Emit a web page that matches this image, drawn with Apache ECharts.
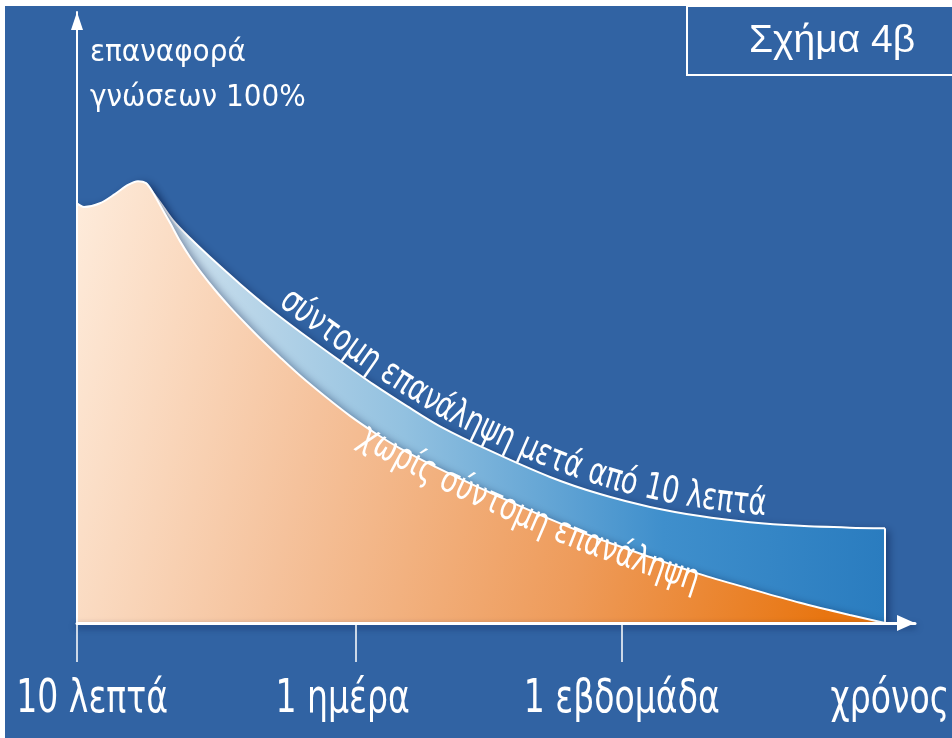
<!DOCTYPE html>
<html>
<head>
<meta charset="utf-8">
<script src="https://cdn.jsdelivr.net/npm/echarts@6/dist/echarts.min.js"></script>
<style>
  html, body { margin: 0; padding: 0; background: #fff; }
  #chart { width: 952px; height: 738px; }
</style>
</head>
<body>
<div id="chart"></div>
<script>
// Time runs 0–100 along the horizontal axis, recall (%) on the vertical axis.
const tickValues = [0, 33.3, 65.0];
const labelValues = [1.8, 31.7, 65.0, 97.0];
const labelTexts = ['10 λεπτά', '1 ημέρα', '1 εβδομάδα', 'χρόνος'];

// Forgetting curve without a short review
const timeNoReview = [0, 0.84, 2.74, 4.53, 6.09, 7.28, 8.23, 8.95, 9.90, 11.10, 12.29, 13.48, 14.68, 16.47, 18.26, 20.05, 21.84, 24.22, 26.61, 29.59, 32.58, 35.56, 38.54, 44.51, 50.48, 56.44, 62.41, 68.38, 74.34, 80.31, 86.28, 92.24, 96.42];
const recallNoReview = [68.7, 68.1, 68.7, 70.2, 71.7, 72.3, 72.0, 70.7, 68.4, 65.5, 62.5, 59.9, 57.6, 54.5, 51.7, 49.1, 46.6, 43.5, 40.5, 37.1, 33.9, 31.1, 28.6, 24.4, 20.6, 17.0, 13.7, 10.8, 8.0, 5.6, 3.3, 1.3, 0];

// Forgetting curve with a short review after 10 minutes
const timeReview = [8.23, 9.90, 11.46, 13.48, 15.87, 19.45, 23.03, 27.45, 31.38, 35.32, 39.38, 43.32, 49.28, 56.44, 62.41, 68.38, 74.34, 80.31, 86.28, 92.24, 96.42];
const recallReview = [72.0, 68.9, 65.9, 63.0, 59.9, 55.5, 51.4, 46.8, 42.9, 39.1, 35.5, 32.2, 28.2, 23.9, 21.1, 19.0, 17.5, 16.5, 15.9, 15.6, 15.5];

const axisTitle = 'επαναφορά\nγνώσεων 100%';
const figureTitle = 'Σχήμα 4β';
const upperCaption = 'σύντομη επανάληψη μετά από 10 λεπτά';
const lowerCaption = 'χωρίς σύντομη επανάληψη';

const BG = '#3163a3';
const COND = '"DejaVu Sans Condensed", "DejaVu Sans", sans-serif';
const SANS = '"Liberation Sans", Arial, sans-serif';

const zip = (xs, ys) => xs.map((x, i) => [x, ys[i]]);
const reviewData = zip(timeReview, recallReview);
const noReviewData = zip(timeNoReview, recallNoReview);
const lastReview = reviewData[reviewData.length - 1];

const chart = echarts.init(document.getElementById('chart'), null, { renderer: 'canvas' });

const baseGraphics = [
  { type: 'rect', z: -10, shape: { x: 5, y: 6, width: 947, height: 732 }, style: { fill: BG } },
  { type: 'rect', z: 5, shape: { x: 687, y: 6, width: 300, height: 69 },
    style: { fill: 'none', stroke: '#fff', lineWidth: 2 } },
  { type: 'text', z: 5, x: 832, y: 41,
    style: { text: figureTitle, fill: '#fff', fontSize: 39, fontFamily: SANS, align: 'center', verticalAlign: 'middle' } },
  { type: 'text', z: 5, x: 90, y: 30,
    style: { text: axisTitle, fill: '#fff', fontSize: 31, fontFamily: COND, lineHeight: 45, align: 'left', verticalAlign: 'top' } }
];

const shadowLine = { shadowColor: 'rgba(5,25,70,0.55)', shadowBlur: 6, shadowOffsetY: 3 };

chart.setOption({
  backgroundColor: '#fff',
  animation: false,
  grid: { left: 77, right: 37, top: 12, bottom: 115, containLabel: false, outerBoundsMode: 'none' },
  xAxis: {
    type: 'value', min: 0, max: 100, position: 'bottom', z: 6,
    splitLine: { show: false },
    axisLine: { show: true, symbol: ['none', 'triangle'], symbolSize: [16, 18], symbolOffset: [0, -9],
      lineStyle: Object.assign({ color: '#fff', width: 3 }, shadowLine) },
    axisTick: { show: true, customValues: tickValues, length: 39, lineStyle: { color: '#fff', width: 1.5 } },
    axisLabel: { show: false }
  },
  yAxis: {
    type: 'value', min: 0, max: 100, z: 6,
    splitLine: { show: false },
    axisLine: { show: true, symbol: ['none', 'triangle'], symbolSize: [12, 18], symbolOffset: [0, -9],
      lineStyle: { color: '#fff', width: 2 } },
    axisTick: { show: false },
    axisLabel: { show: false }
  },
  series: [
    {
      name: 'review', type: 'line', data: reviewData, smooth: 0.3, symbol: 'none', z: 2,
      lineStyle: { color: '#fff', width: 2 },
      areaStyle: {
        color: new echarts.graphic.LinearGradient(0, 0, 1, 0, [
          { offset: 0, color: '#d3e3ee' },
          { offset: 0.35, color: '#92c1e0' },
          { offset: 0.7, color: '#3f8fcc' },
          { offset: 1, color: '#2a7cbf' }
        ]),
        opacity: 1,
        shadowColor: 'rgba(5,25,70,0.5)', shadowBlur: 8, shadowOffsetX: 4, shadowOffsetY: 2
      }
    },
    {
      name: 'review-edge', type: 'line', data: [lastReview, [lastReview[0], 0]], symbol: 'none', z: 2,
      lineStyle: { color: '#fff', width: 2 }
    },
    {
      name: 'no-review', type: 'line', data: noReviewData, smooth: 0.3, symbol: 'none', z: 3,
      lineStyle: { color: '#fff', width: 2 },
      areaStyle: {
        color: new echarts.graphic.LinearGradient(0, 0, 1, 0.5, [
          { offset: 0, color: '#feecdc' },
          { offset: 0.35, color: '#f5c29c' },
          { offset: 0.7, color: '#ee9b5a' },
          { offset: 1, color: '#e87510' }
        ]),
        opacity: 1,
        shadowColor: 'rgba(5,25,70,0.45)', shadowBlur: 8, shadowOffsetX: 4, shadowOffsetY: 1
      }
    }
  ],
  graphic: baseGraphics
});

const px = (d) => chart.convertToPixel({ xAxisIndex: 0, yAxisIndex: 0 }, d);

// ---- time labels under the axis (condensed lettering) ----
const labelGraphics = labelValues.map((v, i) => ({
  type: 'text', z: 6,
  x: px([v, 0])[0], y: 677, scaleX: 0.8,
  style: { text: labelTexts[i], fill: '#fff', fontSize: 46, fontFamily: COND, align: 'center', verticalAlign: 'top' }
}));

// ---- captions written along the curves ----
function densify(pts, steps) {
  const out = [];
  const n = pts.length;
  for (let i = 0; i < n - 1; i++) {
    const p0 = pts[Math.max(i - 1, 0)], p1 = pts[i], p2 = pts[i + 1], p3 = pts[Math.min(i + 2, n - 1)];
    for (let k = 0; k < steps; k++) {
      const t = k / steps, t2 = t * t, t3 = t2 * t;
      const f = (a, b, c, d) => 0.5 * ((2 * b) + (-a + c) * t + (2 * a - 5 * b + 4 * c - d) * t2 + (-a + 3 * b - 3 * c + d) * t3);
      out.push([f(p0[0], p1[0], p2[0], p3[0]), f(p0[1], p1[1], p2[1], p3[1])]);
    }
  }
  out.push(pts[n - 1]);
  return out;
}

function makePath(pts) {
  const len = [0];
  for (let i = 1; i < pts.length; i++) {
    len.push(len[i - 1] + Math.hypot(pts[i][0] - pts[i - 1][0], pts[i][1] - pts[i - 1][1]));
  }
  function at(s) {
    let i = 1;
    while (i < pts.length - 1 && len[i] < s) i++;
    const seg = len[i] - len[i - 1] || 1;
    const t = Math.max(0, Math.min(1, (s - len[i - 1]) / seg));
    return [pts[i - 1][0] + (pts[i][0] - pts[i - 1][0]) * t, pts[i - 1][1] + (pts[i][1] - pts[i - 1][1]) * t];
  }
  function arcAtX(x) {
    for (let i = 0; i < pts.length; i++) if (pts[i][0] >= x) return len[i];
    return len[len.length - 1];
  }
  return { at, arcAtX };
}

const measureCtx = document.createElement('canvas').getContext('2d');

function captionElements(text, path, startX, fontSize, squeeze, offset, shadow) {
  measureCtx.font = fontSize + 'px ' + COND;
  let s = path.arcAtX(startX);
  const els = [];
  for (const ch of text) {
    const w = measureCtx.measureText(ch).width * squeeze;
    const a = path.at(s), b = path.at(s + w);
    const ang = Math.atan2(b[1] - a[1], b[0] - a[0]);
    const m = path.at(s + w / 2);
    const nx = Math.sin(ang), ny = -Math.cos(ang);
    els.push({
      type: 'text', z: 10,
      x: m[0] + nx * offset, y: m[1] + ny * offset,
      rotation: -ang, scaleX: squeeze,
      style: Object.assign({ text: ch, fill: '#fff', fontSize: fontSize, fontFamily: COND,
        align: 'center', verticalAlign: 'middle' }, shadow)
    });
    s += w;
  }
  return els;
}

const upperPath = makePath(densify(reviewData.map(px), 24));
const lowerPath = makePath(densify(noReviewData.map(px), 24));

const captionGraphics = [].concat(
  captionElements(upperCaption, upperPath, 272, 37, 0.82, 18,
    { shadowColor: 'rgba(10,30,80,0.8)', shadowBlur: 3, shadowOffsetX: 1, shadowOffsetY: 1 }),
  captionElements(lowerCaption, lowerPath, 366, 37, 0.82, -8,
    { shadowColor: 'rgba(10,30,80,0.5)', shadowBlur: 2, shadowOffsetX: 1, shadowOffsetY: 1 })
);

chart.setOption({ graphic: baseGraphics.concat(labelGraphics, captionGraphics) });
</script>
</body>
</html>
